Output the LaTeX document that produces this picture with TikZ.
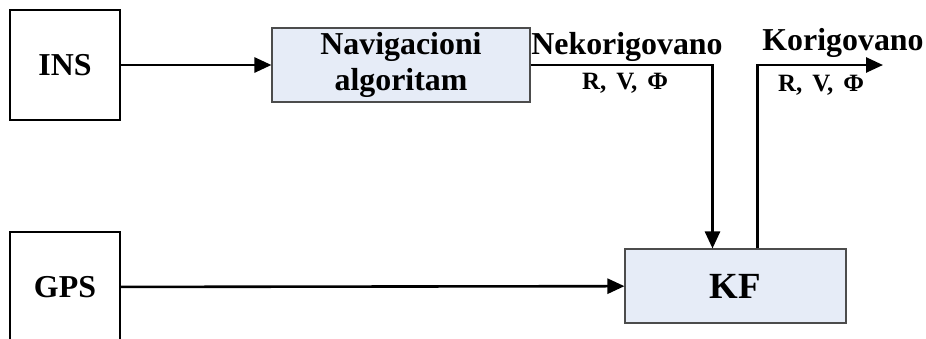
\documentclass[tikz,border=0pt]{standalone}
\usepackage{fontspec}
\setmainfont{Liberation Serif}
\usetikzlibrary{arrows.meta}
\definecolor{boxfill}{HTML}{E6ECF7}
\newcommand{\rvf}{R,\hspace{10bp}V,\hspace{10bp}Φ}
\begin{document}
\begin{tikzpicture}[x=1bp,y=-1bp,>={Triangle[length=17bp,width=15bp]}]
    \tikzstyle{plain}=[draw,line width=1.3bp,minimum width=110bp,minimum height=110bp,inner sep=0pt,font=\fontsize{32}{34}\selectfont\bfseries]
    \tikzstyle{blok}=[draw=black!70,fill=boxfill,line width=1.1bp,inner sep=0pt,align=center,font=\fontsize{32}{36}\selectfont\bfseries]
    \tikzstyle{lbl}=[inner sep=0pt,font=\fontsize{32}{34}\selectfont\bfseries]
    \tikzstyle{sig}=[inner sep=0pt,font=\fontsize{25}{28}\selectfont\bfseries]
    \tikzstyle{conn}=[line width=2.6bp]
    \useasboundingbox (0,0) rectangle (926,338);

    \node[plain] (ins) at (65,65) {INS};
    \node[plain] (gps) at (65,287) {GPS};
    \node[blok,minimum width=258bp,minimum height=74bp] (nav) at (401,65) {Navigacioni\\algoritam};
    \node[blok,minimum width=221bp,minimum height=74bp,font=\fontsize{37}{40}\selectfont\bfseries] (kf) at (735.5,286) {KF};
    \coordinate (out) at (883,65);

    \draw[conn,->] (ins) -- (nav);
    \draw[conn,->] (gps) -- (kf);
    \draw[conn,->] (nav.east) -| ([xshift=-23bp]kf.north);
    \draw[conn,->] ([xshift=22bp]kf.north) |- (out);

    \node[lbl] (nek) at (627,47) {Nekorigovano};
    \node[sig] (rvf1) at (625,83) {\rvf};
    \node[lbl] (kor) at (843,43) {Korigovano};
    \node[sig] (rvf2) at (821,85) {\rvf};
\end{tikzpicture}
\end{document}
